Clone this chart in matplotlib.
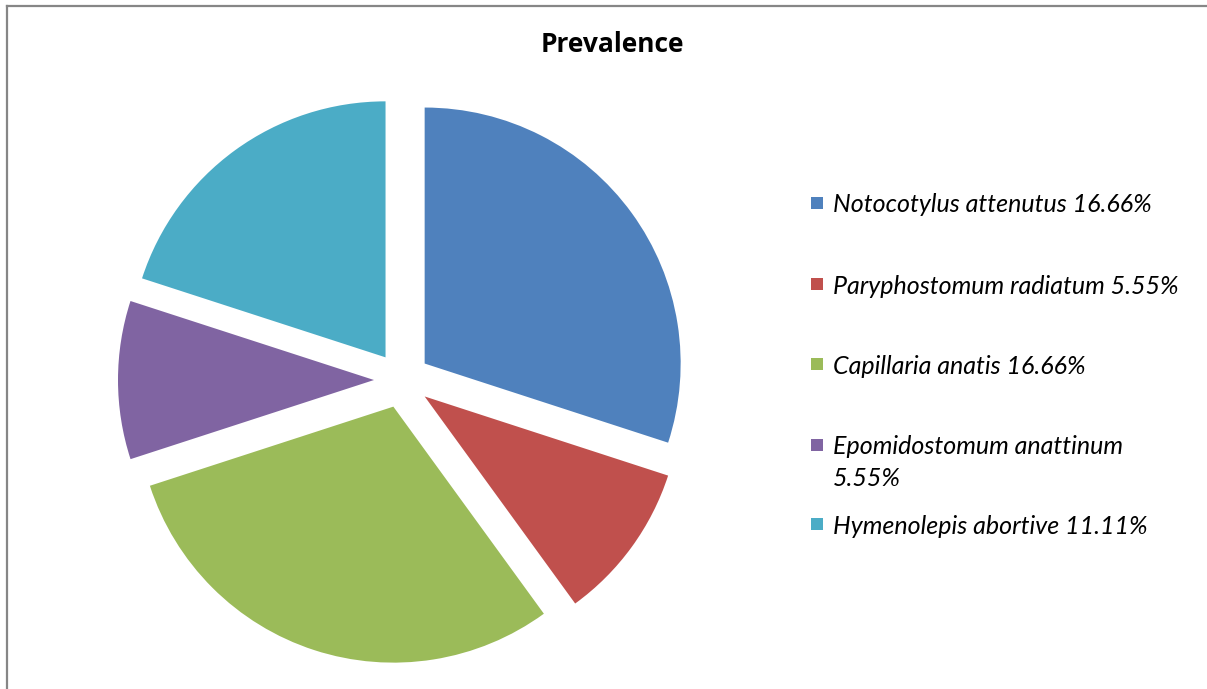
import matplotlib
matplotlib.use("Agg")
import matplotlib.pyplot as plt
from matplotlib.patches import Rectangle
from matplotlib.lines import Line2D

# Data
species = ["Notocotylus attenutus", "Paryphostomum radiatum", "Capillaria anatis",
           "Epomidostomum anattinum", "Hymenolepis abortive"]
prevalence = [16.66, 5.55, 16.66, 5.55, 11.11]
legend_labels = ["Notocotylus attenutus 16.66%", "Paryphostomum radiatum 5.55%",
                 "Capillaria anatis 16.66%", "Epomidostomum anattinum\n5.55%",
                 "Hymenolepis abortive 11.11%"]
colors = ["#4F81BD", "#C0504D", "#9BBB59", "#8064A2", "#4BACC6"]
title = "Prevalence"

W, H = 1207, 689
fig = plt.figure(figsize=(W / 100, H / 100), dpi=100)
fig.patch.set_facecolor("white")

# chart border (only left/top visible)
fig.add_artist(Line2D([6.5 / W, 6.5 / W], [0, 1 - 5.5 / H], transform=fig.transFigure,
                      color="#868686", linewidth=1.6))
fig.add_artist(Line2D([6.5 / W, 1], [1 - 5.5 / H, 1 - 5.5 / H], transform=fig.transFigure,
                      color="#868686", linewidth=1.6))

# Pie axes: centre (402, 380) px, radius 256 px
cx, cy, R = 402, 380, 256
half = 300
ax = fig.add_axes([(cx - half) / W, (H - cy - half) / H, 2 * half / W, 2 * half / H])
wedges, _ = ax.pie(prevalence, colors=colors, startangle=90, counterclock=False,
                   explode=[28 / R] * len(prevalence), radius=1.0,
                   wedgeprops=dict(linewidth=0))
for w in wedges:
    w.set_clip_on(False)
ax.set_xlim(-half / R, half / R)
ax.set_ylim(-half / R, half / R)
ax.axis("off")

fig.text(612 / W, 1 - 45 / H, title, ha="center", va="center",
         fontsize=19, fontweight="bold", family="Open Sans")

# Legend (manual, Excel-style)
legend_y = [203, 284, 364, 445, 524]
line_gap = 32
for lab, col, y in zip(legend_labels, colors, legend_y):
    fig.add_artist(Rectangle((811 / W, 1 - (y + 6) / H), 12 / W, 12 / H,
                             transform=fig.transFigure, facecolor=col, edgecolor="none"))
    for i, line in enumerate(lab.split("\n")):
        fig.text(833 / W, 1 - (y + i * line_gap) / H, line, ha="left", va="center_baseline",
                 fontsize=18, style="italic", family="Lato")

fig.savefig("out.png", dpi=100)
